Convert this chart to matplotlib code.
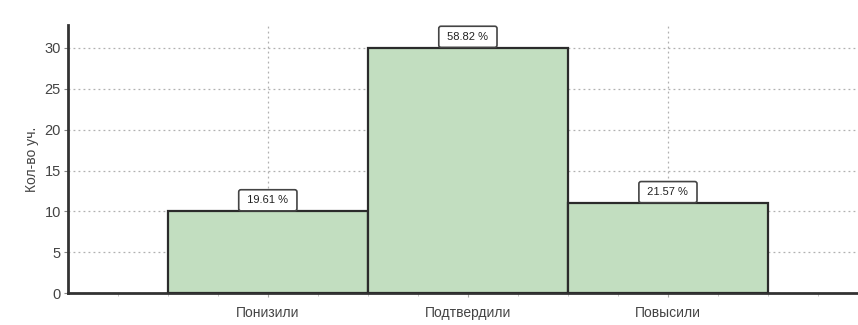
import numpy as np
import matplotlib
matplotlib.use("Agg")
import matplotlib.pyplot as plt

# data
categories = ["Понизили", "Подтвердили", "Повысили"]
counts = [10, 30, 11]
percents = [19.61, 58.82, 21.57]
y_ticks = [0, 5, 10, 15, 20, 25, 30]

plt.rcParams['font.family'] = ['Liberation Sans', 'DejaVu Sans']

fig = plt.figure(figsize=(8.58, 3.25), dpi=100)
ax = fig.add_axes([0.079, 0.098, 0.921, 0.825])

x = np.arange(1, len(categories) + 1)
ax.bar(x, counts, width=1.0, color='#c2dec0', edgecolor='#2b2b2b', linewidth=1.6, zorder=3)

# percentage labels in small boxes above the bars
for xi, c, p in zip(x, counts, percents):
    ax.annotate(f" {p:.2f} % ", (xi, c), xytext=(0, 8), textcoords='offset points',
                ha='center', va='center', fontsize=8, color='#222222', zorder=5,
                bbox=dict(boxstyle='round,pad=0.5,rounding_size=0.2', fc='white',
                          ec='#444444', lw=1.2))

ax.set_xlim(0, 3.95)
ax.set_ylim(0, 32.8)
ax.set_yticks(y_ticks)
ax.set_xticks(x)
ax.set_xticklabels(categories)
ax.set_xticks(np.arange(0.25, 3.95, 0.25), minor=True)

ax.grid(axis='y', linestyle=(0, (1.5, 2.5)), color='#b0b0b0', linewidth=0.9, zorder=0)
ax.grid(axis='x', which='major', linestyle=(0, (1.5, 2.5)), color='#b0b0b0', linewidth=0.9, zorder=0)

for s in ['top', 'right']:
    ax.spines[s].set_visible(False)
for s in ['left', 'bottom']:
    ax.spines[s].set_linewidth(2.0)
    ax.spines[s].set_color('#333333')

ax.tick_params(axis='y', length=3, width=0.8, color='#888888', labelsize=10.5, labelcolor='#444444', pad=2)
ax.tick_params(axis='x', which='major', length=3, width=0.8, color='#aaaaaa', labelsize=10, labelcolor='#444444', pad=6)
ax.tick_params(axis='x', which='minor', length=2, width=0.6, color='#bbbbbb')

ax.set_ylabel("Кол-во уч.", fontsize=10, color='#444444', labelpad=4)

fig.savefig("out.png", dpi=100)
